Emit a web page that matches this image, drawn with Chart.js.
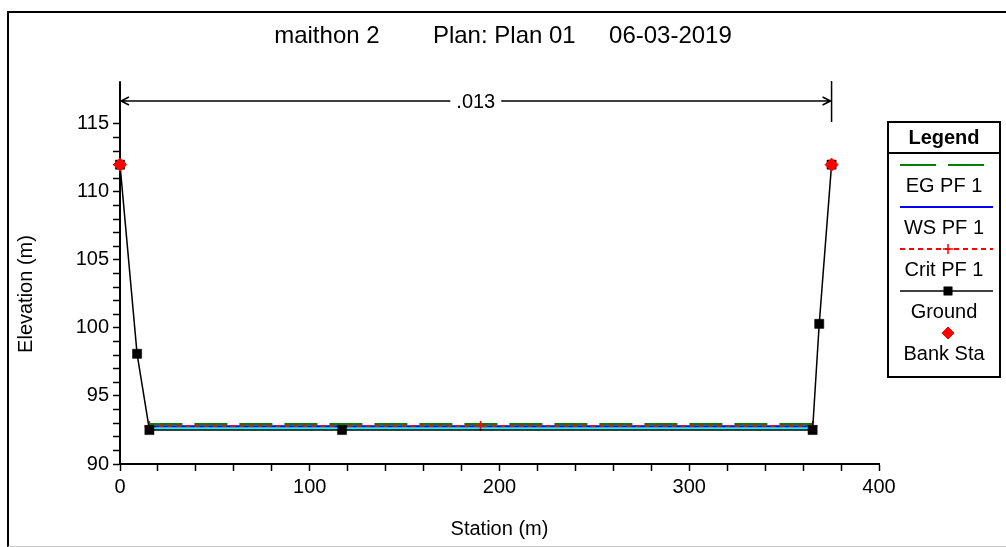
<!DOCTYPE html>
<html lang="en">
<head>
<meta charset="UTF-8" />
<title>maithon 2 - Plan 01</title>
<script src="https://cdn.jsdelivr.net/npm/chart.js"></script>
<style>
  html, body { margin: 0; padding: 0; background: #ffffff; }
  .frame { position: relative; width: 1006px; height: 547px; overflow: hidden; }
  .border {
    position: absolute; left: 7px; top: 11px; width: 1010px; height: 533px;
    border-top: 2px solid #000; border-left: 2px solid #000; border-bottom: 1px solid #c8c8c8;
    pointer-events: none;
  }
  canvas { position: absolute; left: 0; top: 0; }
</style>
</head>
<body>
<div class="frame">
  <canvas id="xsChart" width="1006" height="547"></canvas>
  <div class="border"></div>
</div>
<script>
// cross section, station (m) vs elevation (m)
const groundStation = [0, 9, 15.5, 117, 365, 368.5, 375];
const groundElev = [112, 98.1, 92.5, 92.5, 92.5, 100.3, 112];
const bankStation = [0, 375];
const bankElev = [112, 112];
const wsStation = [15.5, 365];
const wsElev = [92.78, 92.78];
const egStation = [15.5, 365];
const egElev = [92.94, 92.94];
const critStation = [15.5, 190, 365];
const critElev = [92.8, 92.8, 92.8];

// manning's n between stations
const nStations = [0, 375];
const nValues = ['.013'];

const xTicks = [0, 100, 200, 300, 400];
const yTicks = [90, 95, 100, 105, 110, 115];
const xMinorStep = 20;
const yMinorStep = 1;

const titleText = 'maithon 2        Plan: Plan 01     06-03-2019';
const FONT = 'Arial, "Liberation Sans", sans-serif';

function pts(xs, ys) {
  return xs.map((x, i) => ({ x: x, y: ys[i] }));
}

const datasets = [
  {
    label: 'Bank Sta',
    data: pts(bankStation, bankElev),
    showLine: false,
    clip: false,
    pointStyle: 'rectRot',
    pointRadius: 6.5,
    pointBackgroundColor: '#ff0000',
    pointBorderColor: '#ff0000',
    borderColor: '#ff0000'
  },
  {
    label: 'Ground',
    data: pts(groundStation, groundElev),
    clip: false,
    borderColor: '#000000',
    borderWidth: 1.5,
    pointStyle: 'rect',
    pointRadius: 6.5,
    pointBorderWidth: 0.5,
    pointBackgroundColor: '#000000',
    pointBorderColor: '#000000'
  },
  {
    label: 'Crit PF 1',
    data: pts(critStation, critElev),
    borderColor: '#ff0000',
    borderWidth: 2,
    borderDash: [5, 4],
    pointStyle: 'cross',
    pointRadius: 5,
    pointBorderWidth: 1.5,
    pointBorderColor: '#ff0000'
  },
  {
    label: 'WS PF 1',
    data: pts(wsStation, wsElev),
    borderColor: '#0000ff',
    borderWidth: 2,
    pointRadius: 0,
    fill: { value: groundElev[3] },
    backgroundColor: '#00ffff'
  },
  {
    label: 'EG PF 1',
    data: pts(egStation, egElev),
    borderColor: '#008000',
    borderWidth: 2,
    borderDash: [33, 12],
    pointRadius: 0
  }
];

// title, n-value bracket, y title and legend box, drawn on the canvas
const sectionExtras = {
  id: 'sectionExtras',
  afterDraw(chart) {
    const ctx = chart.ctx;
    const area = chart.chartArea;
    const x = chart.scales.x;
    ctx.save();
    ctx.strokeStyle = '#000';
    ctx.fillStyle = '#000';
    ctx.lineWidth = 1.5;
    ctx.textAlign = 'center';
    ctx.textBaseline = 'middle';

    ctx.font = '24px ' + FONT;
    ctx.fillText(titleText, chart.width / 2, 36);

    // manning's n bracket
    const xl = x.getPixelForValue(nStations[0]);
    const xr = x.getPixelForValue(nStations[1]);
    const yl = area.top + 18;
    ctx.beginPath();
    ctx.moveTo(xl, area.top - 2); ctx.lineTo(xl, yl + 4);
    ctx.moveTo(xr, area.top - 2); ctx.lineTo(xr, area.top + 39);
    ctx.stroke();
    ctx.font = '20px ' + FONT;
    const mid = (xl + xr) / 2;
    const tw = ctx.measureText(nValues[0]).width;
    ctx.beginPath();
    ctx.moveTo(xl, yl); ctx.lineTo(mid - tw / 2 - 6, yl);
    ctx.moveTo(mid + tw / 2 + 6, yl); ctx.lineTo(xr, yl);
    ctx.moveTo(xl + 9, yl - 4); ctx.lineTo(xl + 1, yl); ctx.lineTo(xl + 9, yl + 4);
    ctx.moveTo(xr - 9, yl - 4); ctx.lineTo(xr - 1, yl); ctx.lineTo(xr - 9, yl + 4);
    ctx.stroke();
    ctx.fillText(nValues[0], mid, yl + 1);

    // y axis title
    ctx.save();
    ctx.translate(26, 294);
    ctx.rotate(-Math.PI / 2);
    ctx.fillText('Elevation (m)', 0, 0);
    ctx.restore();

    // legend
    const bl = area.right + 9, bt = area.top + 39, bw = 112, bh = 255;
    const cx = bl + bw / 2;
    ctx.lineWidth = 2;
    ctx.strokeRect(bl, bt, bw, bh);
    ctx.beginPath();
    ctx.moveTo(bl, bt + 31); ctx.lineTo(bl + bw, bt + 31);
    ctx.stroke();
    ctx.font = 'bold 20px ' + FONT;
    ctx.fillText('Legend', cx, bt + 16);

    const order = ['EG PF 1', 'WS PF 1', 'Crit PF 1', 'Ground', 'Bank Sta'];
    order.forEach((name, i) => {
      const ds = chart.data.datasets.find(d => d.label === name);
      const sy = bt + 43 + i * 42;
      const sx0 = bl + 12, sx1 = bl + bw - 7;
      if (ds.showLine !== false) {
        ctx.save();
        ctx.strokeStyle = ds.borderColor;
        ctx.lineWidth = ds.borderWidth;
        ctx.setLineDash(ds.borderDash ? (name === 'EG PF 1' ? [36, 12] : ds.borderDash) : []);
        ctx.beginPath();
        ctx.moveTo(sx0, sy); ctx.lineTo(sx1, sy);
        ctx.stroke();
        ctx.restore();
      }
      if (ds.pointRadius > 0) {
        ctx.save();
        ctx.fillStyle = ds.pointBackgroundColor || 'rgba(0,0,0,0)';
        ctx.strokeStyle = ds.pointBorderColor;
        ctx.lineWidth = ds.pointBorderWidth || 1;
        Chart.helpers.drawPoint(ctx, {
          pointStyle: ds.pointStyle,
          radius: name === 'Crit PF 1' ? 5 : 6,
          borderWidth: ds.pointBorderWidth || 1
        }, cx + 4, sy);
        ctx.restore();
      }
      ctx.fillStyle = '#000';
      ctx.font = '20px ' + FONT;
      ctx.fillText(name, cx, sy + 21);
    });
    ctx.restore();
  }
};

new Chart(document.getElementById('xsChart'), {
  type: 'line',
  data: { datasets: datasets },
  options: {
    responsive: false,
    animation: false,
    devicePixelRatio: 1,
    layout: { padding: { left: 0, right: 127, top: 83, bottom: 0 } },
    plugins: {
      legend: { display: false },
      tooltip: { enabled: false },
      title: { display: false }
    },
    scales: {
      x: {
        type: 'linear',
        min: 0,
        max: 400,
        afterFit: (scale) => { scale.height = 83; },
        afterBuildTicks: (scale) => {
          const t = [];
          for (let v = scale.min; v <= scale.max; v += xMinorStep) t.push({ value: v });
          scale.ticks = t;
        },
        ticks: {
          autoSkip: false,
          maxRotation: 0,
          color: '#000',
          padding: 4,
          font: { family: FONT, size: 20 },
          callback: (v) => xTicks.includes(v) ? String(v) : ''
        },
        grid: { drawOnChartArea: false, tickLength: 7, tickColor: '#000', tickWidth: 1.5 },
        border: { display: true, color: '#000', width: 2 },
        title: {
          display: true,
          text: 'Station (m)',
          color: '#000',
          font: { family: FONT, size: 20 },
          padding: { top: 0, bottom: 6 }
        }
      },
      y: {
        type: 'linear',
        min: 90,
        max: 118,
        afterFit: (scale) => { scale.width = 120; },
        afterBuildTicks: (scale) => {
          const t = [];
          for (let v = yTicks[0]; v <= yTicks[yTicks.length - 1]; v += yMinorStep) t.push({ value: v });
          scale.ticks = t;
        },
        ticks: {
          autoSkip: false,
          color: '#000',
          padding: 4,
          font: { family: FONT, size: 20 },
          callback: (v) => yTicks.includes(v) ? String(v) : ''
        },
        grid: { drawOnChartArea: false, tickLength: 7, tickColor: '#000', tickWidth: 1.5 },
        border: { display: true, color: '#000', width: 2 }
      }
    }
  },
  plugins: [sectionExtras]
});
</script>
</body>
</html>
